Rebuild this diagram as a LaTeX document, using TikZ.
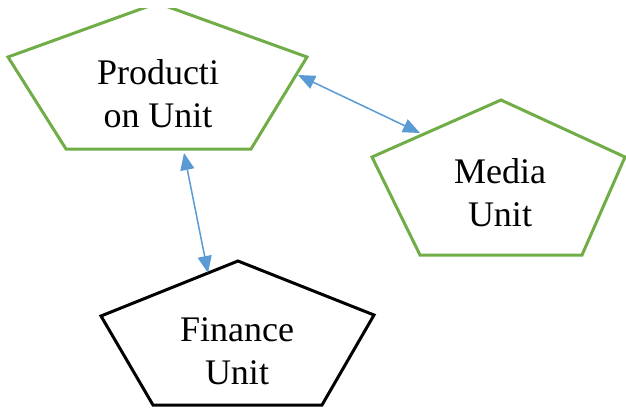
\documentclass[tikz,border=0pt]{standalone}
\usepackage{fontspec}
\setmainfont{Liberation Serif}
\usetikzlibrary{arrows.meta}
\definecolor{unitgreen}{RGB}{112,173,71}
\definecolor{linkblue}{RGB}{91,155,213}
\tikzset{
  unit/.style={draw=unitgreen,line width=3pt,line join=miter},
  unittext/.style={align=center,font=\fontsize{36}{43}\selectfont,inner sep=0pt},
  link/.style={linkblue,line width=1.5pt,{Triangle[length=17pt,width=14pt]}-{Triangle[length=17pt,width=14pt]}}
}
\begin{document}
\begin{tikzpicture}[x=1pt,y=-1pt]
  \useasboundingbox (0,0) rectangle (626,410);
  \clip (0,8) rectangle (626,410);
  \draw[unit] (157.5,3) -- (307,57) -- (251,149) -- (66,149) -- (8,57) -- cycle;
  \draw[unit] (501,100) -- (625,157) -- (582,255) -- (420,255) -- (372,157) -- cycle;
  \draw[unit,draw=black] (238,261) -- (374,315) -- (322,405) -- (153,405) -- (101,316) -- cycle;
  \node[unittext] at (158,94) (prod) {Producti\\on Unit};
  \node[unittext] at (500,193) (media) {Media\\Unit};
  \node[unittext] at (237,351) (fin) {Finance\\Unit};
  \coordinate (prodR) at (298,75);
  \coordinate (prodB) at (184,153);
  \coordinate (mediaL) at (420,133);
  \coordinate (finT) at (208,273);
  \draw[link] (prodR) -- (mediaL);
  \draw[link] (prodB) -- (finT);
\end{tikzpicture}
\end{document}
